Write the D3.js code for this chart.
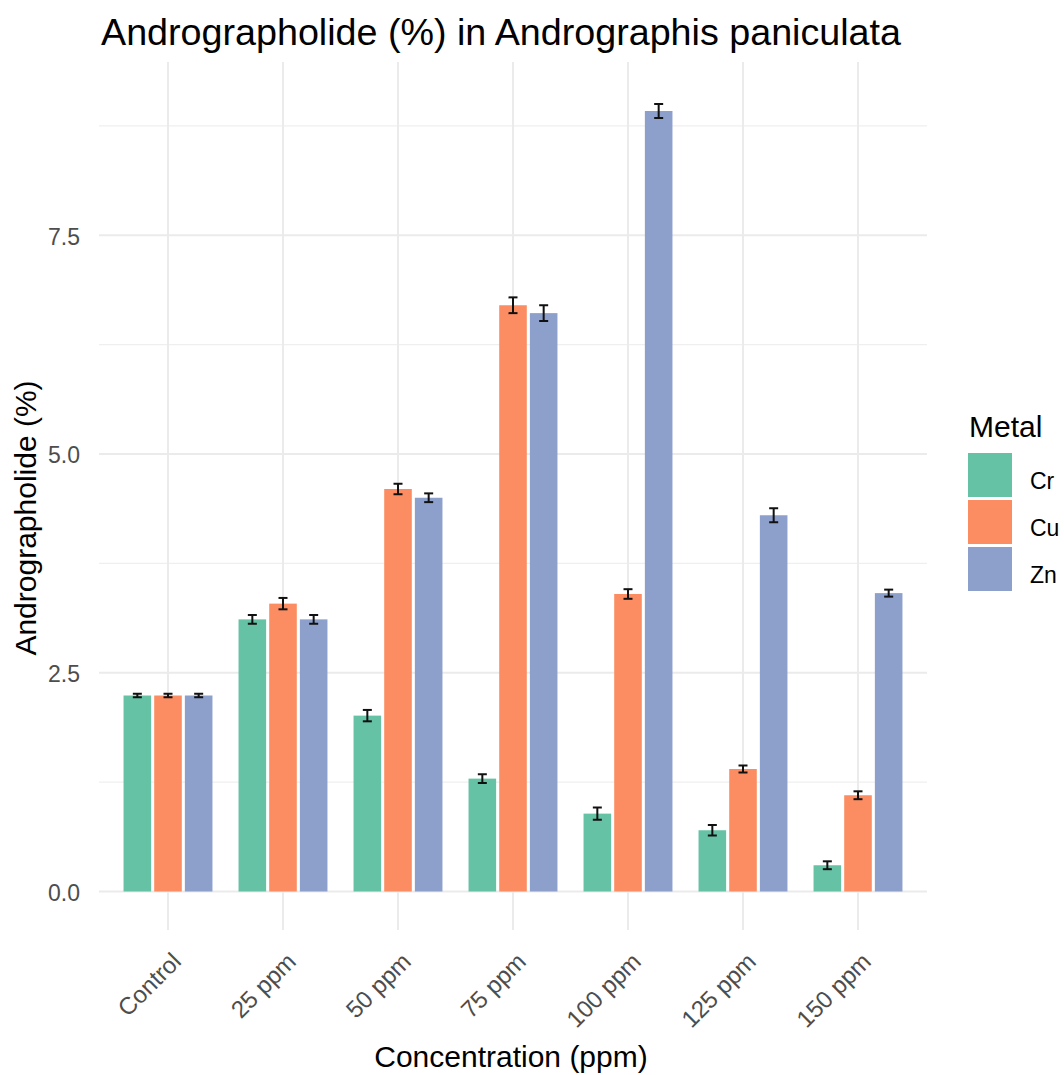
<!DOCTYPE html>
<html>
<head>
<meta charset="utf-8">
<script src="https://cdn.jsdelivr.net/npm/d3@7"></script>
<style>
  html, body { margin: 0; padding: 0; background: #fff; }
  text { font-family: "Liberation Sans", Arial, sans-serif; }
</style>
</head>
<body>
<svg id="chart" width="1064" height="1075"></svg>
<script>
// ---- data ----
const categories = ["Control", "25 ppm", "50 ppm", "75 ppm", "100 ppm", "125 ppm", "150 ppm"];
const metals = ["Cr", "Cu", "Zn"];
const crValues = [2.24, 3.11, 2.01, 1.29, 0.89, 0.70, 0.30];
const cuValues = [2.24, 3.29, 4.60, 6.70, 3.40, 1.40, 1.10];
const znValues = [2.24, 3.11, 4.50, 6.61, 8.92, 4.30, 3.41];
const crErrors = [0.02, 0.05, 0.065, 0.05, 0.07, 0.06, 0.045];
const cuErrors = [0.02, 0.065, 0.06, 0.09, 0.055, 0.04, 0.045];
const znErrors = [0.02, 0.05, 0.05, 0.09, 0.08, 0.08, 0.04];
const yTicks = [0, 2.5, 5, 7.5];
const yMinorTicks = [1.25, 3.75, 6.25, 8.75];
const colors = ["#66C2A5", "#FC8D62", "#8DA0CB"];

const seriesValues = { Cr: crValues, Cu: cuValues, Zn: znValues };
const seriesErrors = { Cr: crErrors, Cu: cuErrors, Zn: znErrors };
const rows = [];
categories.forEach((c, i) => metals.forEach(m => rows.push({
  cat: c, metal: m, value: seriesValues[m][i], err: seriesErrors[m][i]
})));

// ---- layout ----
const panel = { left: 99, right: 927, top: 62, bottom: 930 };
const svg = d3.select("#chart");

const step = (panel.right - panel.left) / 7.2;
const x = d3.scalePoint().domain(categories)
  .range([panel.left + 0.6 * step, panel.right - 0.6 * step]);
const dodge = d3.scaleBand().domain(metals)
  .range([-0.4 * step, 0.4 * step]).paddingInner(0.1).paddingOuter(0.05);
const y = d3.scaleLinear().domain([-0.44, 9.48]).range([panel.bottom, panel.top]);
const color = d3.scaleOrdinal().domain(metals).range(colors);

// gridlines
const grid = svg.append("g");
grid.selectAll("line.minor").data(yMinorTicks).join("line")
  .attr("x1", panel.left).attr("x2", panel.right)
  .attr("y1", d => y(d)).attr("y2", d => y(d))
  .attr("stroke", "#EFEFEF").attr("stroke-width", 1.2);
grid.selectAll("line.major").data(yTicks).join("line")
  .attr("x1", panel.left).attr("x2", panel.right)
  .attr("y1", d => y(d)).attr("y2", d => y(d))
  .attr("stroke", "#EBEBEB").attr("stroke-width", 2);
grid.selectAll("line.vx").data(categories).join("line")
  .attr("x1", d => x(d)).attr("x2", d => x(d))
  .attr("y1", panel.top).attr("y2", panel.bottom)
  .attr("stroke", "#EBEBEB").attr("stroke-width", 2);

// bars
svg.append("g").selectAll("rect").data(rows).join("rect")
  .attr("x", d => x(d.cat) + dodge(d.metal))
  .attr("width", dodge.bandwidth())
  .attr("y", d => y(d.value))
  .attr("height", d => y(0) - y(d.value))
  .attr("fill", d => color(d.metal));

// error bars
const eb = svg.append("g").attr("stroke", "#111").attr("stroke-width", 2);
const capW = 4.5;
rows.forEach(d => {
  const cx = x(d.cat) + dodge(d.metal) + dodge.bandwidth() / 2;
  const y1 = y(d.value + d.err), y2 = y(d.value - d.err);
  eb.append("line").attr("x1", cx).attr("x2", cx).attr("y1", y1).attr("y2", y2);
  eb.append("line").attr("x1", cx - capW).attr("x2", cx + capW).attr("y1", y1).attr("y2", y1);
  eb.append("line").attr("x1", cx - capW).attr("x2", cx + capW).attr("y1", y2).attr("y2", y2);
});

// y axis (labels only)
const yAxis = d3.axisLeft(y).tickValues(yTicks).tickFormat(d3.format(".1f")).tickSize(0).tickPadding(0);
const yg = svg.append("g").attr("transform", `translate(${80},0)`).call(yAxis);
yg.select(".domain").remove();
yg.selectAll("text").attr("font-size", 23).attr("fill", "#4D4D4D")
  .attr("font-family", "Liberation Sans, Arial, sans-serif").attr("dy", "0.38em");

// x axis (labels only)
const xAxis = d3.axisBottom(x).tickSize(0).tickPadding(0);
const xg = svg.append("g").attr("transform", `translate(0,${963})`).call(xAxis);
xg.select(".domain").remove();
xg.selectAll("text")
  .attr("font-size", 24).attr("fill", "#4D4D4D")
  .attr("font-family", "Liberation Sans, Arial, sans-serif")
  .attr("text-anchor", "end").attr("dy", 0).attr("y", 0).attr("x", 0)
  .attr("transform", "translate(14,0) rotate(-45)");

// titles
svg.append("text").attr("x", 101).attr("y", 45)
  .attr("font-size", 36).attr("fill", "#000")
  .attr("textLength", 800).attr("lengthAdjust", "spacingAndGlyphs")
  .text("Andrographolide (%) in Andrographis paniculata");

svg.append("text").attr("x", (panel.left + panel.right) / 2 - 2).attr("y", 1067)
  .attr("font-size", 30).attr("text-anchor", "middle").attr("fill", "#000")
  .text("Concentration (ppm)");

svg.append("text")
  .attr("transform", `translate(36,${518}) rotate(-90)`)
  .attr("font-size", 30).attr("text-anchor", "middle").attr("fill", "#000")
  .text("Andrographolide (%)");

// legend
const lg = svg.append("g");
lg.append("text").attr("x", 969).attr("y", 437).attr("font-size", 30).attr("fill", "#000").text("Metal");
metals.forEach((m, i) => {
  const ky = 453 + i * 47;
  lg.append("rect").attr("x", 968).attr("y", ky).attr("width", 44).attr("height", 44).attr("fill", color(m));
  lg.append("text").attr("x", 1030).attr("y", ky + 30).attr("font-size", 23).attr("fill", "#000")
    .attr("dominant-baseline", "middle").text(m);
});
</script>
</body>
</html>
